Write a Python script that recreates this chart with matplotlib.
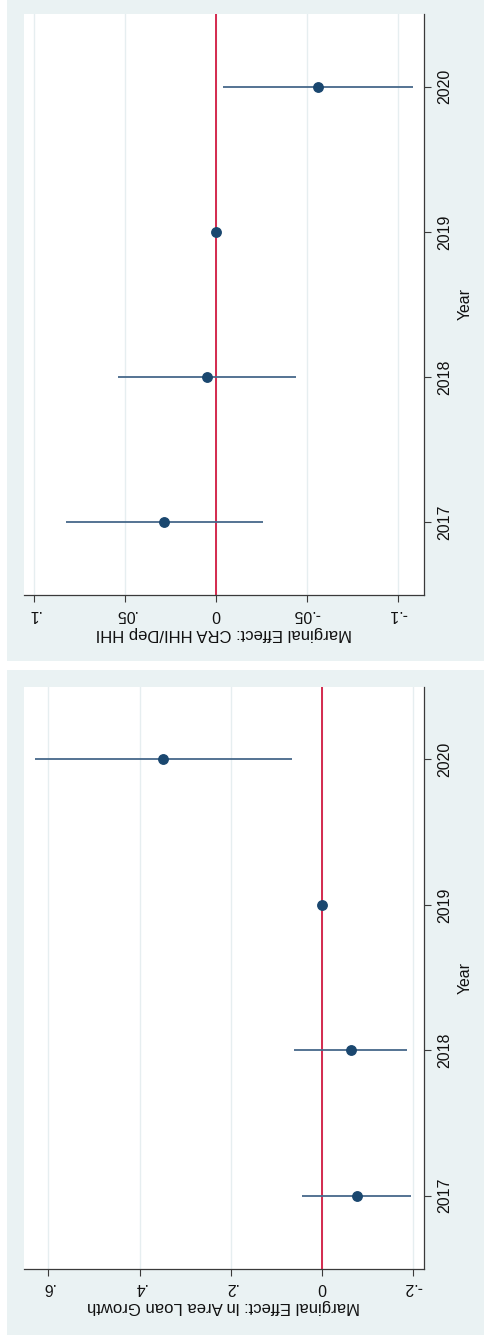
import matplotlib
matplotlib.use("Agg")
import matplotlib.pyplot as plt
from matplotlib.patches import Rectangle

plt.rcParams['font.family'] = ['Liberation Sans', 'DejaVu Sans']

# ---- data ----
years = [2017, 2018, 2019, 2020]
year_labels = ["2017", "2018", "2019", "2020"]

cra_est = [0.0285, 0.0048, 0.0, -0.0563]
cra_lo = [-0.0259, -0.0442, 0.0, -0.1087]
cra_hi = [0.0824, 0.0538, 0.0, -0.0037]
cra_ticks = [0.1, 0.05, 0.0, -0.05, -0.1]
cra_tick_labels = [".1", ".05", "0", "-.05", "-.1"]
cra_title = "Marginal Effect: CRA HHI/Dep HHI"

loan_est = [-0.0767, -0.0629, 0.0, 0.348]
loan_lo = [-0.1945, -0.187, 0.0, 0.0658]
loan_hi = [0.0432, 0.0607, 0.0, 0.629]
loan_ticks = [0.6, 0.4, 0.2, 0.0, -0.2]
loan_tick_labels = [".6", ".4", ".2", "0", "-.2"]
loan_title = "Marginal Effect: ln Area Loan Growth"

# ---- style ----
W, H = 484, 1339
BG = "#EAF2F3"
GRID = "#E6EEF0"
NAVY = "#1A476F"
CI = "#46688A"
RED = "#D21A40"
AX = "#3A3A3A"

fig = plt.figure(figsize=(W / 100, H / 100), dpi=100)
fig.patch.set_facecolor("white")


def fy(y):
    return 1 - y / H


# panel backgrounds
for (top, bot) in [(0, 661), (670, 1334.5)]:
    fig.patches.append(Rectangle((7 / W, fy(bot)), (W - 7) / W, (bot - top) / H,
                                 transform=fig.transFigure, facecolor=BG,
                                 edgecolor="none", zorder=-5))


def panel(top, bot, est, lo, hi, ticks, tlabels, xlim, title):
    ax = fig.add_axes([24 / W, fy(bot), 400 / W, (bot - top) / H])
    ax.set_zorder(2)
    ax.set_facecolor("white")
    for t in ticks:
        ax.axvline(t, color=GRID, lw=1.0, zorder=1)
    ax.axvline(0, color=RED, lw=1.3, zorder=2)
    ax.hlines(years, lo, hi, color=CI, lw=1.3, zorder=3)
    ax.plot(est, years, "o", color=NAVY, ms=6.8, mec=NAVY, zorder=4)
    ax.set_xlim(*xlim)
    ax.set_ylim(2016.5, 2020.5)
    for s in ["left", "top"]:
        ax.spines[s].set_visible(False)
    for s in ["bottom", "right"]:
        ax.spines[s].set_color(AX)
        ax.spines[s].set_linewidth(0.9)
    ax.yaxis.tick_right()
    ax.yaxis.set_label_position("right")
    ax.set_yticks(years)
    ax.set_yticklabels(year_labels, rotation=90, va="center", fontsize=11.4)
    ax.set_xticks(ticks)
    ax.set_xticklabels(tlabels, rotation=180, fontsize=11.4)
    ax.tick_params(axis="both", direction="out", length=4.8, width=0.8,
                   color=AX, labelcolor="#111111")
    ax.tick_params(axis="y", pad=4.5)
    ax.tick_params(axis="x", pad=3.5)
    ax.set_xlabel(title, rotation=180, fontsize=12, color="#111111", labelpad=3)
    ax.set_ylabel("Year", rotation=90, fontsize=11.4, color="#111111", labelpad=4)
    return ax


panel(14, 595, cra_est, cra_lo, cra_hi, cra_ticks, cra_tick_labels,
      (0.1057, -0.1145), cra_title)
panel(686.7, 1268.5, loan_est, loan_lo, loan_hi, loan_ticks, loan_tick_labels,
      (0.6533, -0.2236), loan_title)

fig.savefig("out.png", dpi=100, facecolor="white")
